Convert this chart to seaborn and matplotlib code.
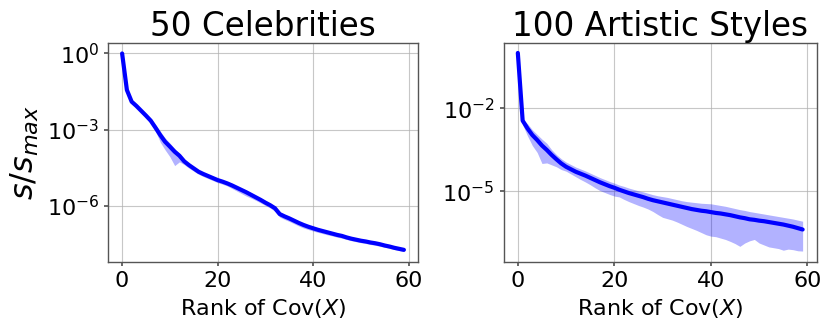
import numpy as np
import pandas as pd
import matplotlib
matplotlib.use("Agg")
import matplotlib.pyplot as plt
import seaborn as sns

rank = list(range(60))

# log10 of s/s_max
celeb_mean = [0.0, -1.44, -1.9, -2.07, -2.26, -2.45, -2.65, -2.93, -3.22, -3.48,
              -3.67, -3.87, -4.03, -4.25, -4.40, -4.53, -4.66, -4.75, -4.83, -4.91,
              -4.99, -5.05, -5.12, -5.20, -5.29, -5.38, -5.47, -5.57, -5.67, -5.77,
              -5.88, -5.98, -6.10, -6.33, -6.42, -6.50, -6.59, -6.68, -6.76, -6.83,
              -6.89, -6.95, -7.00, -7.05, -7.10, -7.15, -7.19, -7.25, -7.30, -7.34,
              -7.38, -7.41, -7.45, -7.48, -7.52, -7.57, -7.61, -7.66, -7.70, -7.74]
celeb_low = [-0.02, -1.5, -1.96, -2.13, -2.32, -2.51, -2.72, -3.07, -3.50, -3.80,
             -4.07, -4.42, -4.27, -4.38, -4.52, -4.64, -4.76, -4.85, -4.93, -5.01,
             -5.09, -5.15, -5.22, -5.32, -5.42, -5.52, -5.62, -5.70, -5.79, -5.89,
             -5.99, -6.09, -6.22, -6.45, -6.54, -6.62, -6.71, -6.80, -6.88, -6.94,
             -7.00, -7.05, -7.10, -7.15, -7.19, -7.24, -7.28, -7.33, -7.38, -7.42,
             -7.46, -7.49, -7.53, -7.56, -7.60, -7.64, -7.68, -7.73, -7.77, -7.81]
celeb_high = [0.02, -1.40, -1.85, -2.02, -2.21, -2.40, -2.56, -2.80, -3.07, -3.33,
              -3.53, -3.75, -3.94, -4.18, -4.34, -4.48, -4.61, -4.70, -4.78, -4.86,
              -4.94, -5.00, -5.07, -5.14, -5.23, -5.31, -5.40, -5.50, -5.60, -5.70,
              -5.80, -5.91, -6.03, -6.27, -6.36, -6.44, -6.53, -6.62, -6.70, -6.77,
              -6.84, -6.90, -6.95, -7.00, -7.05, -7.10, -7.14, -7.20, -7.25, -7.29,
              -7.33, -7.36, -7.40, -7.43, -7.47, -7.52, -7.56, -7.61, -7.65, -7.69]

style_mean = [0.0, -2.45, -2.73, -2.97, -3.15, -3.35, -3.51, -3.69, -3.85, -4.00,
              -4.12, -4.21, -4.30, -4.37, -4.44, -4.52, -4.60, -4.68, -4.75, -4.82,
              -4.88, -4.95, -5.01, -5.07, -5.12, -5.17, -5.22, -5.28, -5.33, -5.37,
              -5.41, -5.45, -5.49, -5.53, -5.57, -5.61, -5.65, -5.68, -5.71, -5.73,
              -5.76, -5.79, -5.81, -5.84, -5.87, -5.91, -5.95, -5.98, -6.02, -6.04,
              -6.07, -6.09, -6.12, -6.15, -6.18, -6.21, -6.25, -6.29, -6.34, -6.39]
style_low = [-0.1, -2.6, -3.0, -3.35, -3.6, -4.0, -3.98, -4.05, -4.12, -4.22,
             -4.28, -4.38, -4.48, -4.58, -4.67, -4.77, -4.88, -4.98, -5.05, -5.12,
             -5.18, -5.21, -5.30, -5.38, -5.45, -5.52, -5.58, -5.65, -5.74, -5.85,
             -5.95, -6.00, -6.05, -6.12, -6.20, -6.28, -6.35, -6.42, -6.50, -6.58,
             -6.63, -6.65, -6.70, -6.75, -6.82, -6.90, -7.00, -6.88, -6.80, -6.75,
             -6.88, -6.95, -7.02, -7.05, -7.08, -7.14, -7.10, -7.12, -7.16, -7.17]
style_high = [0.0, -2.40, -2.56, -2.78, -2.95, -3.12, -3.27, -3.50, -3.68, -3.83,
              -3.95, -4.04, -4.13, -4.20, -4.27, -4.35, -4.43, -4.51, -4.58, -4.65,
              -4.71, -4.78, -4.83, -4.89, -4.94, -4.99, -5.03, -5.08, -5.13, -5.17,
              -5.20, -5.23, -5.27, -5.31, -5.35, -5.38, -5.40, -5.42, -5.44, -5.45,
              -5.46, -5.49, -5.52, -5.55, -5.59, -5.63, -5.67, -5.70, -5.74, -5.77,
              -5.80, -5.83, -5.86, -5.89, -5.92, -5.95, -5.98, -6.01, -6.05, -6.09]

panels = [
    ("50 Celebrities", celeb_mean, celeb_low, celeb_high, [1e0, 1e-3, 1e-6], (6e-9, 2.6)),
    ("100 Artistic Styles", style_mean, style_low, style_high, [1e-2, 1e-5], (2.7e-8, 2.3)),
]

sns.set_theme(style="ticks", rc={
    "axes.edgecolor": "#555555",
    "axes.linewidth": 1.0,
    "grid.color": "#b0b0b0",
    "grid.linewidth": 0.8,
    "grid.alpha": 0.7,
    "xtick.color": "#555555",
    "ytick.color": "#555555",
    "xtick.labelcolor": "black",
    "ytick.labelcolor": "black",
    "text.color": "black",
    "axes.labelcolor": "black",
})
plt.rcParams["font.family"] = ["DejaVu Sans"]

fig = plt.figure(figsize=(8.31, 3.33), dpi=100)
axes = [fig.add_axes([0.130, 0.213, 0.373, 0.658]),
        fig.add_axes([0.606, 0.213, 0.377, 0.658])]

for ax, (title, mean, low, high, yt, ylim) in zip(axes, panels):
    df = pd.DataFrame({"rank": rank, "s": 10.0 ** np.array(mean)})
    ax.fill_between(rank, 10.0 ** np.array(low), 10.0 ** np.array(high),
                    color="blue", alpha=0.3, linewidth=0)
    sns.lineplot(data=df, x="rank", y="s", color="blue", linewidth=3, ax=ax)
    ax.set_yscale("log")
    ax.set_ylim(*ylim)
    ax.set_yticks(yt)
    ax.yaxis.set_minor_locator(matplotlib.ticker.NullLocator())
    ax.set_xticks([0, 20, 40, 60])
    ax.set_xlim(-2.95, 61.95)
    ax.grid(True)
    ax.tick_params(labelsize=16, length=3)
    ax.set_title(title, fontsize=23.5, pad=4, color="black")
    ax.set_xlabel("Rank of Cov($X$)", fontsize=16, color="black")
    ax.set_ylabel("")
    for sp in ax.spines.values():
        sp.set_visible(True)

axes[0].set_ylabel("$s/s_{max}$", fontsize=23, color="black")

fig.savefig("out.png", dpi=100)
